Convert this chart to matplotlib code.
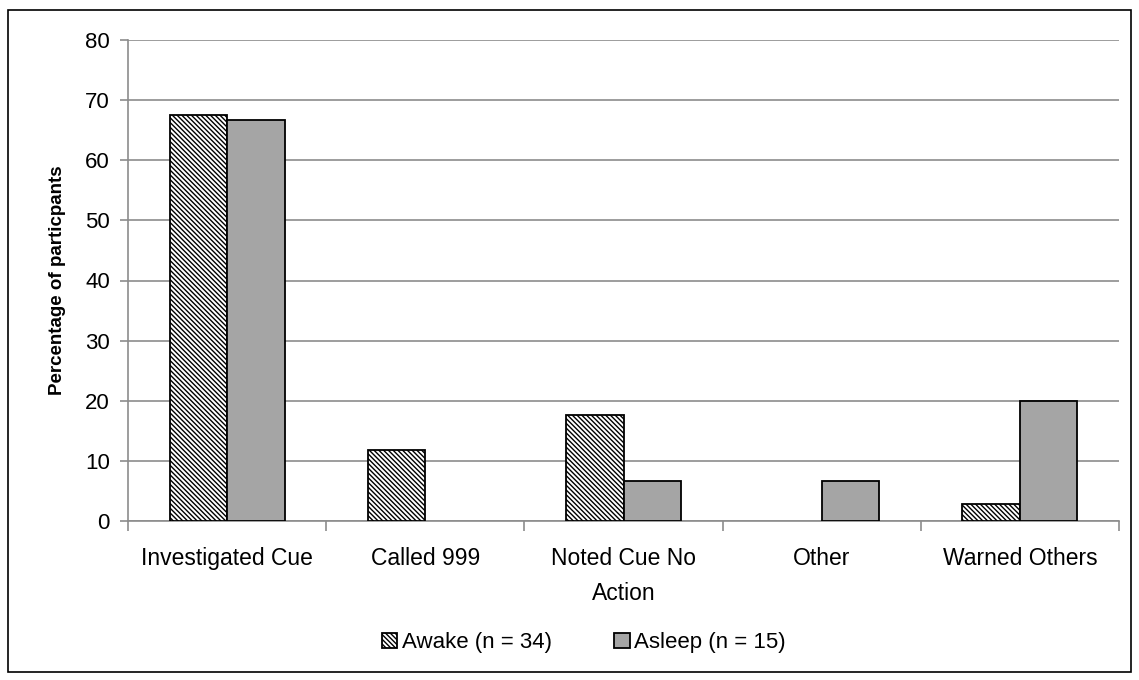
import matplotlib.pyplot as plt
import numpy as np
from matplotlib.patches import Rectangle

#__________________DATA

categories = ['Investigated Cue', 'Called 999', 'Noted Cue No\nAction', 'Other', 'Warned Others']
awake = [67.6, 11.8, 17.6, 0.0, 2.9]
asleep = [66.7, 0.0, 6.7, 6.7, 20.0]
labels = ['Awake (n = 34)', 'Asleep (n = 15)']

#__________________FIGURE

plt.rcParams['font.family'] = ['Liberation Sans', 'DejaVu Sans']
plt.rcParams['hatch.linewidth'] = 1.0
plt.rcParams['hatch.color'] = '#3a3a3a'

fig = plt.figure(figsize=(11.39, 6.8), dpi=100)
fig.patches.append(Rectangle((8/1139, 8/680), 1123/1139, 662/680, transform=fig.transFigure,
                             fill=False, ec='k', lw=1.2, zorder=10))

ax = fig.add_axes([128/1139, 1 - 521/680, (1119-128)/1139, (521-40)/680])

x = np.arange(len(categories))
w = 0.29
b1 = ax.bar(x - w/2, awake, w, color='white', edgecolor='k', hatch='\\'*7, lw=1.3, label=labels[0], zorder=3)
b2 = ax.bar(x + w/2, asleep, w, color='#a5a5a5', edgecolor='k', lw=1.3, label=labels[1], zorder=3)
for p in list(b1) + list(b2):
    if p.get_height() == 0:
        p.set_visible(False)

ax.set_ylim(0, 80)
ax.set_xlim(-0.5, len(categories) - 0.5)
ax.set_yticks(range(0, 81, 10))
ax.yaxis.grid(True, color='#8c8c8c', lw=1.2, zorder=0)
for s in ['top', 'right']:
    ax.spines[s].set_visible(False)
ax.spines['left'].set_color('#8c8c8c')
ax.spines['bottom'].set_color('#8c8c8c')
ax.spines['left'].set_linewidth(1.2)
ax.spines['bottom'].set_linewidth(1.2)

ax.set_xticks(x)
ax.set_xticklabels(categories, fontsize=16.5, va='top', linespacing=1.65)
ax.tick_params(axis='x', length=0, pad=19)
ax.set_xticks(np.arange(-0.5, len(categories)), minor=True)
ax.tick_params(axis='x', which='minor', length=7, color='#8c8c8c', width=1.2)
ax.tick_params(axis='y', length=6, color='#8c8c8c', width=1.2, labelsize=16, pad=7)

ax.set_ylabel('Percentage of particpants', fontsize=13.5, fontweight='bold', labelpad=14)

ax.legend(loc='upper center', bbox_to_anchor=(0.46, -0.19), ncol=2, frameon=False, fontsize=16,
          handlelength=0.7, handleheight=0.7, handletextpad=0.2, columnspacing=2.8)

plt.savefig('out.png', dpi=100)
plt.close()
